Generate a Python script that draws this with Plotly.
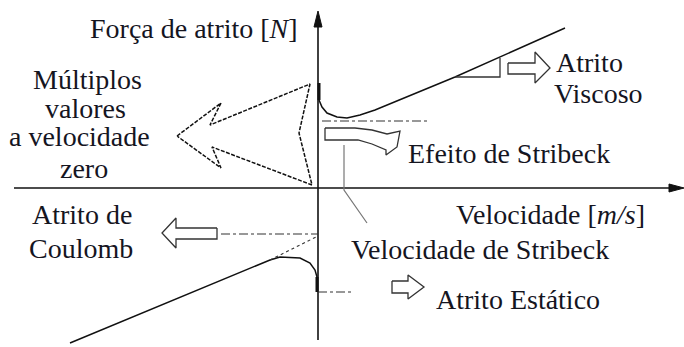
import plotly.graph_objects as go

# Stribeck friction curve
# origin = where the two axes cross, units ~ pixels of the original
vel_pos = [1, 4, 9, 19, 29, 42, 57, 137, 247]
force_pos = [88, 81, 75, 71, 70, 73, 78, 111, 160]
vel_neg = [-248, -48, -38, -18, -8, -3, -1]
force_neg = [-155, -72, -69, -70, -75, -82, -89]

# static friction jump at zero velocity
static_v = [1, 1]
static_f_pos = [105, 88]
static_v_neg = [-1, -1]
static_f_neg = [-89, -104]

# reference levels
coulomb_level = -46
stribeck_level = 67
static_level = -104
stribeck_velocity = 26

fig = go.Figure()

ink = '#111111'
grey = '#333333'
font = dict(family='Liberation Serif', size=28, color='#15151f')


def line(x, y, color=ink, width=1.5, dash='solid'):
    fig.add_trace(go.Scatter(x=x, y=y, mode='lines',
                             line=dict(color=color, width=width, dash=dash),
                             hoverinfo='skip'))


def filled(x, y):
    fig.add_trace(go.Scatter(x=x, y=y, mode='lines', fill='toself',
                             fillcolor=ink, line=dict(color=ink, width=1),
                             hoverinfo='skip'))


#axes with arrow heads
line([0, 0], [-152, 164], width=1.6)
line([-304, 352], [0, 0], width=1.6)
filled([0, -4, 4, 0], [177, 161, 161, 177])
filled([366, 351, 351, 366], [0, 4, -4, 0])

#friction curve
line(vel_pos, force_pos, width=1.5)
line(vel_neg, force_neg, width=1.5)
line(static_v, static_f_pos, width=3)
line(static_v_neg, static_f_neg, width=3)

#dotted / dash-dot guides
line([4, 110], [stribeck_level, stribeck_level], color=grey, width=1.2, dash='dashdot')
line([-97, 0], [coulomb_level, coulomb_level], color=grey, width=1.2, dash='dashdot')
line([0, 35], [static_level, static_level], color=grey, width=1.2, dash='dashdot')
line([-48, 0], [-72, -48], color=grey, width=1.1, dash='dot')
line([stribeck_velocity, stribeck_velocity, 49], [43, -2, -35], color='#777777', width=1.2)

#slope triangle for viscous friction
line([137, 182, 182], [111, 111, 130], color=grey, width=1.3)

#big dashed arrow (multiple values at zero velocity)
line([-141, -97, -108, -8, -19, -6, -106, -97, -141],
     [52, 85, 63, 104, 55, 3, 41, 20, 52], color=ink, width=1.5, dash='4px,1.5px')

#hollow arrows
line([7, 37, 54, 69, 82, 79, 68, 68, 54, 40, 7, 7],
     [60, 60, 58, 54, 57, 41, 33, 38, 44, 48, 48, 60], color=grey, width=1.3)
line([190, 217, 217, 232, 217, 217, 190, 190],
     [125, 125, 136, 120, 105, 114, 114, 125], color=grey, width=1.3)
line([74, 90, 90, 106, 90, 90, 74, 74],
     [-93, -93, -87, -99, -111, -105, -105, -93], color=grey, width=1.3)
line([-101, -142, -142, -156, -142, -142, -101, -101],
     [-40, -40, -30, -45, -60, -51, -51, -40], color=grey, width=1.3)

#labels
labels = [
    ('Força de atrito [<i>N</i>]', -18, 160, 'right'),
    ('Múltiplos', -231, 109, 'center'),
    ('valores', -233, 80, 'center'),
    ('a velocidade', -239, 52, 'center'),
    ('zero', -234, 20, 'center'),
    ('Atrito de', -236, -26, 'center'),
    ('Coulomb', -237, -60, 'center'),
    ('Atrito', 236, 126, 'left'),
    ('Viscoso', 234, 95, 'left'),
    ('Efeito de Stribeck', 88, 35, 'left'),
    ('Velocidade [<i>m/s</i>]', 136, -26, 'left'),
    ('Velocidade de Stribeck', 31, -61, 'left'),
    ('Atrito Estático', 116, -111, 'left'),
]
for text, x, y, anchor in labels:
    fig.add_annotation(x=x, y=y, text=text, showarrow=False,
                       xanchor=anchor, yanchor='middle', font=font)

fig.update_layout(
    width=684, height=347,
    margin=dict(l=0, r=0, t=0, b=0),
    showlegend=False,
    plot_bgcolor='white', paper_bgcolor='white',
    xaxis=dict(range=[-318, 366], visible=False, fixedrange=True),
    yaxis=dict(range=[-159, 188], visible=False, fixedrange=True),
)

#page body has a default margin, drop it so the figure fills the window
fig.write_html("out.html", config={'displayModeBar': False},
               post_script="document.body.style.margin='0px';")
